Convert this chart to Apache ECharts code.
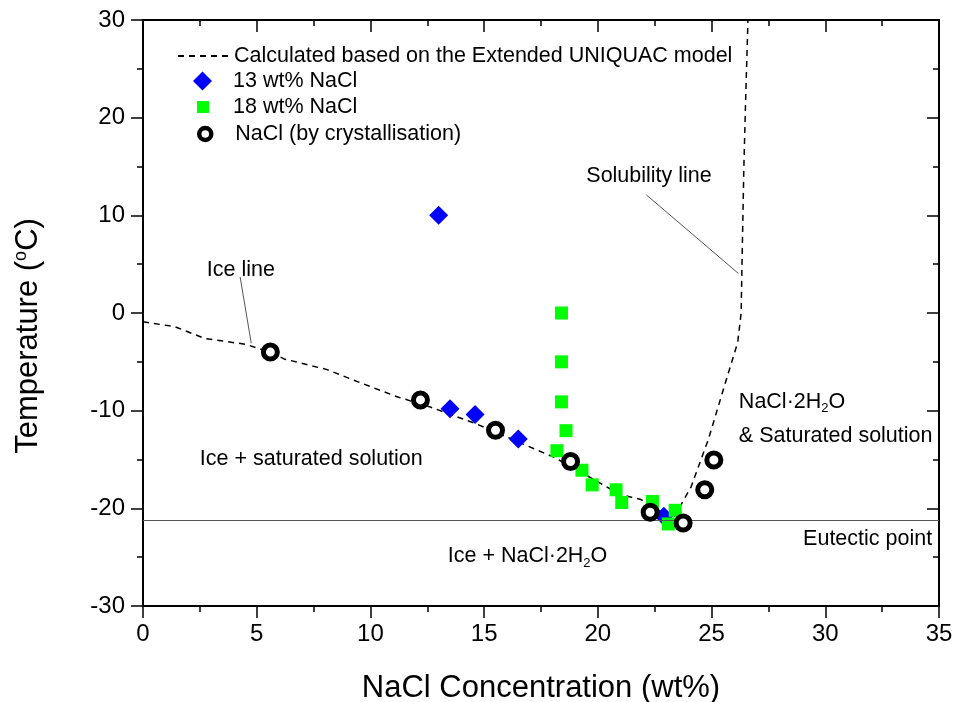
<!DOCTYPE html>
<html>
<head>
<meta charset="utf-8">
<script src="https://cdn.jsdelivr.net/npm/echarts@6/dist/echarts.min.js"></script>
<style>
  html, body { margin: 0; padding: 0; background: #fff; }
  #chart { width: 957px; height: 702px; }
</style>
</head>
<body>
<div id="chart"></div>
<script>
// NaCl–H2O phase diagram: measured freezing / crystallisation points
// plotted over the Extended UNIQUAC model curve.

// Axis ticks
const xTicks = [0, 5, 10, 15, 20, 25, 30, 35];
const yTicks = [-30, -20, -10, 0, 10, 20, 30];

// Extended UNIQUAC model: ice line down to the eutectic, then the solubility line
const modelConc = [0, 1.4, 2.7, 4.5, 5.6, 6.2, 6.9, 8.1, 9.4, 11.2, 12.6, 14.6, 16.7, 18.1, 21.0, 21.9, 23.3,
                   24.1, 24.85, 25.6, 26.15, 26.3, 26.33, 26.42, 26.5, 26.6];
const modelTemp = [-0.9, -1.4, -2.6, -3.2, -4.0, -4.7, -5.1, -5.8, -7.0, -8.6, -9.6, -11.3, -13.4, -14.8, -18.6, -19.1, -21.1,
                   -17.8, -13.0, -7.2, -3.0, 0, 4, 15, 22, 30];

// Eutectic temperature
const eutecticTemp = -21.2;

// 13 wt% NaCl solution
const s13Conc = [13.0, 13.5, 14.6, 16.5, 22.9];
const s13Temp = [10.0, -9.8, -10.4, -12.9, -20.8];

// 18 wt% NaCl solution
const s18Conc = [18.4, 18.4, 18.4, 18.6, 18.2, 19.3, 19.75, 20.8, 21.05, 22.4, 23.4, 23.1];
const s18Temp = [0.0, -5.0, -9.1, -12.05, -14.1, -16.1, -17.6, -18.1, -19.4, -19.3, -20.2, -21.6];

// NaCl (by crystallisation)
const crysConc = [5.6, 12.2, 15.5, 18.8, 22.3, 23.75, 24.7, 25.1];
const crysTemp = [-4.0, -8.9, -12.0, -15.2, -20.4, -21.5, -18.1, -15.05];

const modelName = 'Calculated based on the Extended UNIQUAC model';
const s13Name = '13 wt% NaCl';
const s18Name = '18 wt% NaCl';
const crysName = 'NaCl (by crystallisation)';

const zip = (xs, ys) => xs.map((x, i) => [x, ys[i]]);

const FONT = "'Liberation Sans', Arial, sans-serif";
const BLACK = '#000';
const TEXT_SIZE = 21.5;

function makeAxis(kind, ticks, isMain) {
  const horizontal = kind === 'x';
  return {
    type: 'value',
    position: horizontal ? (isMain ? 'bottom' : 'top') : (isMain ? 'left' : 'right'),
    min: ticks[0],
    max: ticks[ticks.length - 1],
    interval: ticks[1] - ticks[0],
    axisLine: { show: true, onZero: false, lineStyle: { color: BLACK, width: 2 } },
    axisTick: { show: true, inside: !isMain, length: 12, lineStyle: { color: BLACK, width: 1.5 } },
    minorTick: { show: true, splitNumber: 2, length: 6, lineStyle: { color: BLACK, width: 1.5 } },
    splitLine: { show: false },
    minorSplitLine: { show: false },
    axisLabel: {
      show: isMain,
      color: BLACK,
      fontFamily: FONT,
      fontSize: 24,
      margin: horizontal ? 16 : 18
    }
  };
}

const xMain = Object.assign(makeAxis('x', xTicks, true), {
  name: 'NaCl Concentration (wt%)',
  nameLocation: 'middle',
  nameGap: 67,
  nameTextStyle: { color: BLACK, fontFamily: FONT, fontSize: 31 }
});
const yMain = Object.assign(makeAxis('y', yTicks, true), {
  name: '{t|Temperature (}{s|o}{t|C)}',
  nameLocation: 'middle',
  nameGap: 97,
  nameTextStyle: {
    padding: [0, 46, 0, 0],
    rich: {
      t: { color: BLACK, fontFamily: FONT, fontSize: 31, lineHeight: 35 },
      s: { color: BLACK, fontFamily: FONT, fontSize: 18, lineHeight: 18, padding: [0, 0, 15, 0] }
    }
  }
});

const legendText = { color: BLACK, fontFamily: FONT, fontSize: TEXT_SIZE };

const chart = echarts.init(document.getElementById('chart'), null, { renderer: 'canvas' });

chart.setOption({
  animation: false,
  backgroundColor: '#fff',
  grid: { left: 143, right: 18, top: 20, bottom: 96, containLabel: false, outerBoundsMode: 'none' },
  xAxis: [xMain, Object.assign(makeAxis('x', xTicks, false), { gridIndex: 0 })],
  yAxis: [yMain, Object.assign(makeAxis('y', yTicks, false), { gridIndex: 0 })],
  legend: [
    {
      data: [{ name: modelName, itemStyle: { color: 'rgba(0,0,0,0)', borderWidth: 0, opacity: 0 } }],
      left: 177, top: 45, padding: 0, itemWidth: 51, itemHeight: 14,
      selectedMode: false, textStyle: legendText
    },
    {
      data: [s13Name], left: 193, top: 70, padding: 0, itemWidth: 19, itemHeight: 19,
      selectedMode: false, textStyle: Object.assign({ padding: [0, 0, 0, 16] }, legendText)
    },
    {
      data: [s18Name], left: 197, top: 96, padding: 0, itemWidth: 12, itemHeight: 12,
      selectedMode: false, textStyle: Object.assign({ padding: [0, 0, 0, 19] }, legendText)
    },
    {
      data: [{ name: crysName, itemStyle: { color: '#fff', borderColor: BLACK, borderWidth: 4.5 } }],
      left: 197, top: 123, padding: 0, itemWidth: 12, itemHeight: 12,
      selectedMode: false, textStyle: Object.assign({ padding: [0, 0, 0, 19] }, legendText)
    }
  ],
  series: [
    {
      name: modelName,
      type: 'line',
      data: zip(modelConc, modelTemp),
      symbol: 'none',
      smooth: false,
      lineStyle: { color: BLACK, width: 1.5, type: [6, 5] },
      itemStyle: { color: BLACK },
      z: 2,
      markLine: {
        silent: true,
        symbol: 'none',
        label: { show: false },
        lineStyle: { color: '#555', width: 1, type: 'solid' },
        data: [{ yAxis: eutecticTemp }]
      }
    },
    {
      name: s13Name,
      type: 'scatter',
      data: zip(s13Conc, s13Temp),
      symbol: 'diamond',
      symbolSize: 19,
      itemStyle: { color: '#0000ff', opacity: 1 },
      z: 3
    },
    {
      name: s18Name,
      type: 'scatter',
      data: zip(s18Conc, s18Temp),
      symbol: 'rect',
      symbolSize: 13,
      itemStyle: { color: '#00ff00', opacity: 1 },
      z: 4
    },
    {
      name: crysName,
      type: 'scatter',
      data: zip(crysConc, crysTemp),
      symbol: 'circle',
      symbolSize: 14,
      itemStyle: { color: '#fff', borderColor: BLACK, borderWidth: 5, opacity: 1 },
      z: 5
    }
  ]
});

// Region labels and leader lines, anchored in data coordinates
const toPx = (p) => chart.convertToPixel({ gridIndex: 0 }, p);
const plain = { fill: BLACK, fontFamily: FONT, fontSize: TEXT_SIZE };
const hydrateRich = {
  m: { fill: BLACK, fontFamily: FONT, fontSize: TEXT_SIZE, lineHeight: 24 },
  s: { fill: BLACK, fontFamily: FONT, fontSize: 13, lineHeight: 13, padding: [14, 0, 0, 0] }
};

const labels = [
  { text: 'Ice line', at: [4.3, 4.4], align: 'center' },
  { text: 'Solubility line', at: [22.25, 14.0], align: 'center' },
  { text: 'Ice + saturated solution', at: [2.5, -14.95], align: 'left' },
  { text: '{m|Ice + NaCl·2H}{s|2}{m|O}', at: [13.4, -24.9], align: 'left', rich: true },
  { text: '{m|NaCl·2H}{s|2}{m|O}', at: [26.2, -9.1], align: 'left', rich: true },
  { text: '& Saturated solution', at: [26.2, -12.6], align: 'left' },
  { text: 'Eutectic point', at: [34.7, -23.1], align: 'right' }
];

const leaders = [
  { from: [4.27, 3.7], to: [4.76, -3.1] },
  { from: [22.13, 12.1], to: [26.18, 4.05] }
];

const graphics = [];
labels.forEach((l) => {
  const p = toPx(l.at);
  const style = Object.assign({}, plain, {
    text: l.text, x: p[0], y: p[1], align: l.align, verticalAlign: 'middle'
  });
  if (l.rich) style.rich = hydrateRich;
  graphics.push({ type: 'text', silent: true, z: 10, style });
});
leaders.forEach((ln) => {
  const a = toPx(ln.from), b = toPx(ln.to);
  graphics.push({
    type: 'line', silent: true, z: 9,
    shape: { x1: a[0], y1: a[1], x2: b[0], y2: b[1] },
    style: { stroke: '#555', lineWidth: 1 }
  });
});

chart.setOption({ graphic: graphics });
</script>
</body>
</html>
